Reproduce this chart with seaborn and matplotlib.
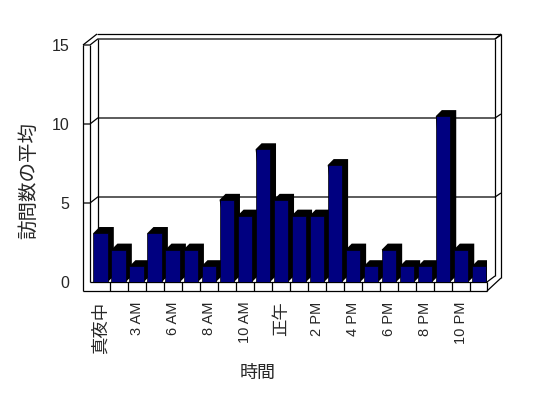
import matplotlib
matplotlib.use("Agg")
import numpy as np
import pandas as pd
import seaborn as sns
import matplotlib.pyplot as plt
from matplotlib.patheffects import AbstractPathEffect
from matplotlib.path import Path
from matplotlib.transforms import IdentityTransform, ScaledTranslation

# ---------------- data ----------------
hours = ['真夜中', '2 AM', '3 AM', '5 AM', '6 AM', '7 AM', '8 AM', '9 AM',
         '10 AM', '11 AM', '正午', '1 PM', '2 PM', '3 PM', '4 PM', '5 PM',
         '6 PM', '7 PM', '8 PM', '9 PM', '10 PM', '11 PM']
visits = [3.1, 2.05, 1.0, 3.1, 2.05, 2.05, 1.0, 5.2, 4.2, 8.4, 5.2,
          4.2, 4.2, 7.4, 2.05, 1.0, 2.05, 1.0, 1.0, 10.5, 2.05, 1.0]
shown_labels = hours[::2]
y_ticks = [0, 5, 10, 15]
x_title = '時間'
y_title = '訪問数の平均'

# ---------------- style ----------------
sns.set_style('white')
plt.rcParams['font.family'] = ['Liberation Sans', 'Noto Sans CJK JP', 'DejaVu Sans']

W, H = 548, 398
fig = plt.figure(figsize=(W / 100, H / 100), dpi=100)

L, R, B, T = 83, 487, 282, 45   # front plane of plot (pixels from top)
ax = fig.add_axes([L / W, 1 - B / H, (R - L) / W, (B - T) / H])
bg = fig.add_axes([0, 0, 1, 1], zorder=0)
bg.set_xlim(0, W)
bg.set_ylim(H, 0)
bg.axis('off')
ax.set_zorder(1)
ax.patch.set_alpha(0)


class Extrude(AbstractPathEffect):
    """Draw a black 3-D side/top behind each bar face."""
    def __init__(self, depth_px):
        super().__init__()
        self.d = depth_px

    def draw_path(self, renderer, gc, tpath, affine, rgbFace=None):
        v = affine.transform(tpath.vertices)
        x0, y0 = v.min(axis=0)
        x1, y1 = v.max(axis=0)
        d = self.d
        poly = Path([(x0, y1), (x0 + d, y1 + d), (x1 + d, y1 + d),
                     (x1 + d, y0 + d), (x1, y0), (x0, y1)], closed=True)
        gc0 = renderer.new_gc()
        gc0.copy_properties(gc)
        gc0.set_linewidth(0)
        gc0.set_foreground('black')
        renderer.draw_path(gc0, poly, IdentityTransform(), (0, 0, 0, 1))
        gc0.restore()
        renderer.draw_path(gc, tpath, affine, rgbFace)


df = pd.DataFrame({'hour': hours, 'visits': visits})
sns.barplot(data=df, x='hour', y='visits', order=hours, color='#000080',
            saturation=1, width=0.8, edgecolor='black', linewidth=0.5,
            errorbar=None, ax=ax)
for p in ax.patches:
    p.set_path_effects([Extrude(6)])

ax.set_xlim(-0.977, 21.44)
ax.set_ylim(0, 15)
ax.set_yticks(y_ticks)
ax.set_yticklabels([str(t) for t in y_ticks], fontsize=11.5)
ax.set_xticks(range(0, len(hours), 2))
ax.set_xticklabels(shown_labels, rotation=90, fontsize=10.5)
shift = ScaledTranslation(-0.03, 0, fig.dpi_scale_trans)
for t in ax.get_xticklabels():
    if any(ord(c) > 0x3000 for c in t.get_text()):
        t.set_fontsize(12.5)
    t.set_transform(t.get_transform() + shift)
ax.tick_params(axis='both', length=0)
ax.tick_params(axis='y', pad=10)
ax.tick_params(axis='x', pad=14)
for s in ax.spines.values():
    s.set_visible(False)
ax.grid(False)

ax.set_xlabel(x_title, fontsize=13)
ax.set_ylabel(y_title, fontsize=14)
ax.xaxis.set_label_coords(0.433, -0.388)
ax.xaxis.label.set_va('center')
ax.yaxis.set_label_coords(-0.134, 0.43)
ax.yaxis.label.set_va('center')


# ---------------- 3-D frame (decoration) ----------------
def yf(v):
    return H - ax.transData.transform((0, v))[1]


def xf(x):
    return ax.transData.transform((x, 0))[0]


kw = dict(color='black', lw=0.9, solid_capstyle='butt')
xw, xb, xbr, xo, yo, dy = 90, 97.7, 495, 501, 34, 6
y0f = yf(0)
floor_b = 291

# outer frame
bg.plot([L, L], [yf(15), floor_b], **kw)
bg.plot([L, R], [floor_b, floor_b], **kw)
bg.plot([R, xo], [floor_b, 278], **kw)
bg.plot([xo, xo], [yo, 278], **kw)
bg.plot([L, xb - 0.7], [yf(15), yo], **kw)
bg.plot([xb - 0.7, xo], [yo, yo], **kw)
# left wall thickness and back wall
bg.plot([xw, xw], [yf(15), y0f], **kw)
bg.plot([xb, xb], [yf(15) - dy, y0f - dy], **kw)
bg.plot([xbr, xbr], [yf(15) - dy, y0f - dy], **kw)
bg.plot([xbr, xo], [yf(15) - dy, yo], **kw)
# gridlines on back wall with connectors
for v in y_ticks[1:]:
    bg.plot([L, xw, xb, xbr], [yf(v), yf(v), yf(v) - dy, yf(v) - dy], **kw)
    bg.plot([xbr, xo], [yf(v) - dy, yf(v) - dy - 4], **kw)
# floor
bg.plot([xw, R], [y0f, y0f], **kw)
bg.plot([R, R], [y0f, floor_b], **kw)
bg.plot([R, xbr], [y0f, y0f - dy], **kw)
for i in range(len(hours) - 1):
    x = xf(i + 0.5)
    bg.plot([x, x], [y0f, floor_b], **kw)

fig.savefig('out.png', dpi=100)
